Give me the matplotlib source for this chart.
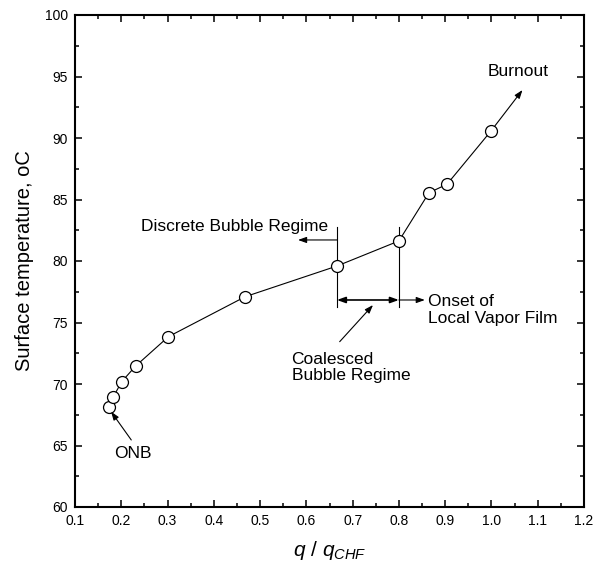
import matplotlib
matplotlib.use("Agg")
import matplotlib.pyplot as plt
from matplotlib.ticker import MultipleLocator, FormatStrFormatter

plt.rcParams['font.family'] = ['Liberation Sans', 'DejaVu Sans']
plt.rcParams['mathtext.fontset'] = 'custom'
plt.rcParams['mathtext.it'] = 'Liberation Sans:italic'
plt.rcParams['mathtext.rm'] = 'Liberation Sans'

# Data
q_ratio = [0.174, 0.183, 0.201, 0.231, 0.302, 0.468, 0.666, 0.800, 0.865, 0.904, 0.999]
surf_temp = [68.15, 68.97, 70.19, 71.46, 73.85, 77.10, 79.59, 81.63, 85.55, 86.24, 90.57]

x_ticks = [0.1, 0.2, 0.3, 0.4, 0.5, 0.6, 0.7, 0.8, 0.9, 1.0, 1.1, 1.2]
y_ticks = [60, 65, 70, 75, 80, 85, 90, 95, 100]

fig = plt.figure(figsize=(5.95, 5.76), dpi=100)
ax = fig.add_axes([75/595, 1-507/576, (584-75)/595, (507-15)/576])

ax.plot(q_ratio, surf_temp, color='black', lw=0.8, marker='o', ms=8.6,
        mfc='white', mec='black', mew=0.9, zorder=3)

ax.set_xlim(0.1, 1.2)
ax.set_ylim(60, 100)
ax.set_xticks(x_ticks)
ax.set_yticks(y_ticks)
ax.xaxis.set_major_formatter(FormatStrFormatter('%.1f'))
ax.xaxis.set_minor_locator(MultipleLocator(0.05))
ax.yaxis.set_minor_locator(MultipleLocator(2.5))
ax.tick_params(which='both', direction='in', top=True, right=True,
               labelsize=10, width=1.1)
ax.tick_params(which='major', length=5, pad=5)
ax.tick_params(which='minor', length=3)
for s in ax.spines.values():
    s.set_linewidth(1.5)

ax.set_xlabel(r'$q$ / $q_{CHF}$', fontsize=15, labelpad=8)
ax.set_ylabel('Surface temperature, oC', fontsize=14.5, labelpad=8)

afs = 12.5
arrow_kw = dict(arrowstyle='-|>,head_length=0.5,head_width=0.18', color='black', lw=0.8,
                shrinkA=0, shrinkB=0)

# Burnout
ax.annotate('', xy=(1.067, 93.9), xytext=(q_ratio[-1], surf_temp[-1]),
            arrowprops=dict(arrow_kw, shrinkA=4.5))
ax.text(1.057, 95.37, 'Burnout', fontsize=afs, ha='center', va='center')

# ONB
ax.annotate('', xy=(0.178, 67.75), xytext=(0.2216, 65.45), arrowprops=arrow_kw)
ax.text(0.185, 64.37, 'ONB', fontsize=afs, ha='left', va='center')

# Regime boundaries
ax.plot([0.666, 0.666], [76.28, 82.79], color='black', lw=0.8)
ax.plot([0.800, 0.800], [76.28, 82.79], color='black', lw=0.8)

ax.annotate('', xy=(0.582, 81.71), xytext=(0.666, 81.71), arrowprops=arrow_kw)
ax.text(0.646, 82.79, 'Discrete Bubble Regime', fontsize=afs, ha='right', va='center')

ax.annotate('', xy=(0.800, 76.83), xytext=(0.666, 76.83),
            arrowprops=dict(arrow_kw, arrowstyle='<|-|>,head_length=0.5,head_width=0.18', lw=1.2))
ax.annotate('', xy=(0.856, 76.83), xytext=(0.800, 76.83), arrowprops=arrow_kw)
ax.text(0.863, 76.02, 'Onset of\nLocal Vapor Film', fontsize=afs, ha='left', va='center',
        linespacing=1.15)

ax.annotate('', xy=(0.744, 76.42), xytext=(0.672, 73.44), arrowprops=arrow_kw)
ax.text(0.568, 71.34, 'Coalesced\nBubble Regime', fontsize=afs, ha='left', va='center',
        linespacing=1.1)

fig.savefig('out.png', dpi=100)
